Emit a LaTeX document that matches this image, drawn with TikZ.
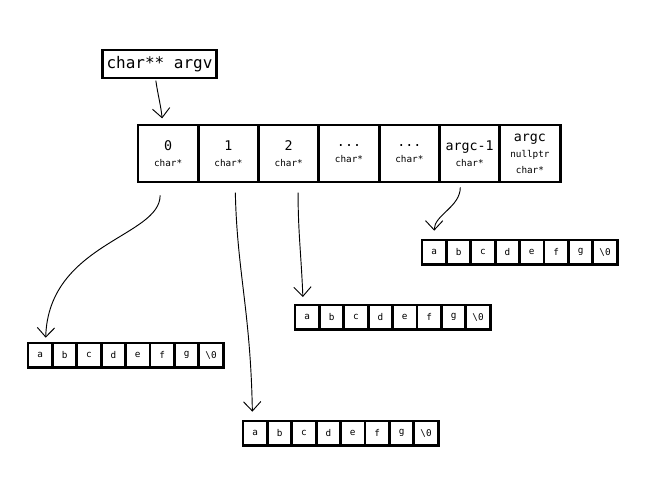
\documentclass[tikz,border=0pt]{standalone}
\usepackage{fontspec}
\setmonofont{DejaVu Sans Mono}
\usetikzlibrary{arrows.meta,positioning,calc}
\newcommand{\idx}[1]{{\fontsize{10}{12}\selectfont #1}}
\newcommand{\ellip}{...}

\begin{document}
\begin{tikzpicture}[x=0.75pt,y=-0.75pt,
      box/.style={draw,line width=2.2pt,outer sep=0pt,font=\ttfamily},
      slot/.style={box,minimum width=45.2pt,minimum height=42.75pt,inner sep=1pt,align=center,
        font=\ttfamily\fontsize{7}{12}\selectfont},
      chr/.style={box,minimum width=18.3pt,minimum height=18.5pt,inner sep=0pt,
        font=\ttfamily\fontsize{7}{9}\selectfont},
      hand/.style={-{Straight Barb[length=7pt,width=13pt]},line width=0.7pt},
    ]
    \useasboundingbox (0,0) rectangle (651,482);
    \node[box,minimum width=86pt,minimum height=21pt,inner sep=0pt,font=\ttfamily\fontsize{12}{14}\selectfont]
      (argv) at (159.5,64) {char** argv};
    % argv array
    \foreach \top/\bot [count=\i from 0] in {0/char*,1/char*,2/char*,\ellip/char*,\ellip/char*,argc-1/char*,argc/nullptr\\char*} {
      \node[slot,anchor=north west] (p\i) at ({138+60.3*\i},125) {\idx{\top}\\\bot};
    }
    % the strings
    \foreach \arr/\x/\y in {sa/28/343,sb/243/421,sc/295/305,sd/422/240} {
      \foreach \ch [count=\j from 0] in {a,b,c,d,e,f,g,\textbackslash0} {
        \node[chr,anchor=north west] (\arr\j) at ({\x+24.4*\j},\y) {\ch};
      }
    }
    \draw[hand,shorten <=2pt,shorten >=5pt] ([xshift=-3pt]argv.south)
      .. controls +(2,15) and +(-2,-20) .. ([xshift=-4pt]p0.north);
    \draw[hand,shorten <=10pt,shorten >=4pt] ([xshift=-6pt]p0.south)
      .. controls +(0,55) and +(3,-100) .. ([xshift=4pt]sa0.north);
    \draw[hand,shorten <=8pt,shorten >=7pt] ([xshift=5pt]p1.south)
      .. controls +(2,90) and +(-2,-110) .. ([xshift=-2pt]sb0.north);
    \draw[hand,shorten <=8pt,shorten >=6pt] ([xshift=7pt]p2.south)
      .. controls +(0,50) and +(-2,-50) .. ([xshift=-3pt]sc0.north);
    \draw[hand,shorten <=4pt,shorten >=7pt] ([xshift=-7pt]p5.south)
      .. controls +(0,25) and +(0,-25) .. ([xshift=0pt]sd0.north);
  \end{tikzpicture}
\end{document}
